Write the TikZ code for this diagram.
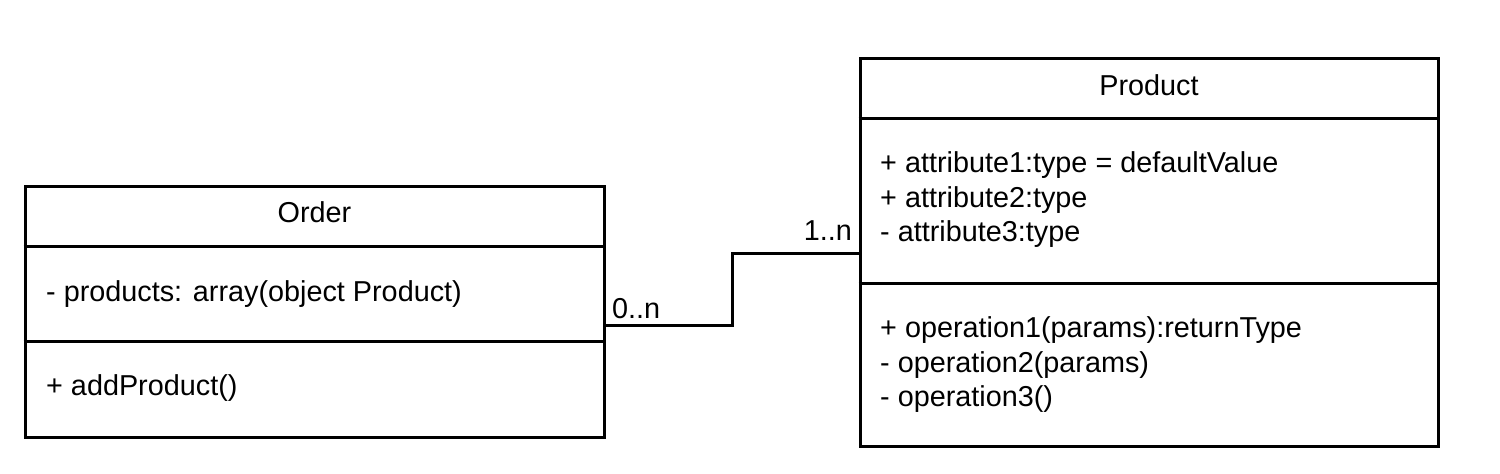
\documentclass[tikz,border=0pt]{standalone}
\usepackage{fontspec}
\setmainfont{Liberation Sans}
\begin{document}
\begin{tikzpicture}[x=1pt,y=-1pt,
  umlbox/.style={draw=black,line width=3pt,rectangle,inner sep=0pt,fill=white},
  txt/.style={anchor=base west,inner sep=0pt,font=\fontsize{28.8}{34.5}\selectfont},
  ttl/.style={anchor=base,inner sep=0pt,font=\fontsize{28.8}{34.5}\selectfont},
  conn/.style={draw=black,line width=3pt},
  divider/.style={draw=black,line width=3pt}]
\useasboundingbox (0,0) rectangle (1500,474);
% boxes
\node[umlbox,minimum width=579pt,minimum height=250.5pt] (order) at (314.5,311.75) {};
\node[umlbox,minimum width=578pt,minimum height=387.5pt] (product) at (1149,252.25) {};
% divider reference coordinates
\coordinate (od1) at (0,246);
\coordinate (od2) at (0,341);
\coordinate (pd1) at (0,118);
\coordinate (pd2) at (0,283);
\draw[divider] (order.west |- od1) -- (order.east |- od1);
\draw[divider] (order.west |- od2) -- (order.east |- od2);
\draw[divider] (product.west |- pd1) -- (product.east |- pd1);
\draw[divider] (product.west |- pd2) -- (product.east |- pd2);
% texts
\node[ttl] (ordertitle) at (314.5,222.5) {Order};
\node[txt] (orderattr) at (46,301.5) {- products: array(object Product)};
\node[txt] (orderop) at (46,395.5) {+ addProduct()};
\node[ttl] (producttitle) at (1149,95.5) {Product};
\node[txt] (pa1) at (880,172.5) {+ attribute1:type = defaultValue};
\node[txt] (pa2) at (880,207) {+ attribute2:type};
\node[txt] (pa3) at (880,241.5) {- attribute3:type};
\node[txt] (po1) at (880,337.5) {+ operation1(params):returnType};
\node[txt] (po2) at (880,372) {- operation2(params)};
\node[txt] (po3) at (880,406.5) {- operation3()};
% connector
\coordinate (cy1) at (0,325.5);
\coordinate (cy2) at (0,253);
\coordinate (bend1) at (732,325.5);
\coordinate (bend2) at (732,253);
\draw[conn] (order.east |- cy1) -- (bend1) -- (bend2) -- (product.west |- cy2);
\node[anchor=base west,inner sep=0pt,font=\fontsize{28.8}{34.5}\selectfont] (lab0) at (612,318) {0..n};
\node[anchor=base east,inner sep=0pt,font=\fontsize{28.8}{34.5}\selectfont] (lab1) at (852,240.5) {1..n};
\end{tikzpicture}
\end{document}
